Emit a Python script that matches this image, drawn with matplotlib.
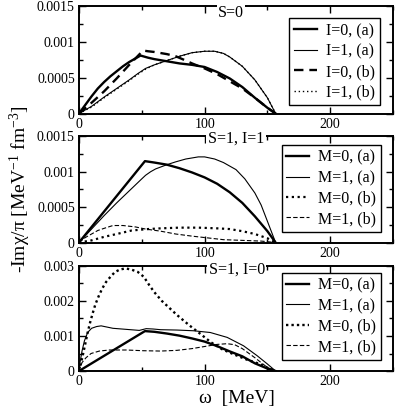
import matplotlib
matplotlib.use('Agg')
import matplotlib.pyplot as plt
from matplotlib.ticker import MultipleLocator

plt.rcParams['font.family'] = ['Liberation Serif', 'DejaVu Serif']
plt.rcParams['mathtext.fontset'] = 'custom'
plt.rcParams['mathtext.rm'] = 'Liberation Serif'
plt.rcParams['mathtext.it'] = 'Liberation Serif:italic'

# ---- S=0 panel ----
w_i0a = [0, 5, 10, 15, 20, 25, 30, 35, 40, 45, 49, 55, 60, 70, 80, 90, 100, 110, 120, 130, 140, 150, 156.5]
v_i0a = [0, 0.00012, 0.00024, 0.00035, 0.00044, 0.00052, 0.00059, 0.00066, 0.00072, 0.00077, 0.00081,
         0.00078, 0.00076, 0.00073, 0.0007, 0.00068, 0.00065, 0.00058, 0.00049, 0.00037, 0.00022, 0.00008, 0]
w_i1a = [0, 10, 20, 30, 40, 47, 53, 60, 70, 80, 90, 100, 108, 115, 120, 130, 140, 150, 156.5]
v_i1a = [0, 0.0001, 0.00023, 0.00035, 0.00047, 0.00056, 0.00063, 0.00068, 0.00074, 0.0008, 0.00085,
         0.00087, 0.00087, 0.00084, 0.00079, 0.00066, 0.00047, 0.00022, 0]
w_i0b = [0, 10, 20, 30, 40, 51, 55, 60, 70, 77, 85, 90, 100, 110, 120, 130, 140, 150, 156.5]
v_i0b = [0, 0.00015, 0.00031, 0.00049, 0.00068, 0.00088, 0.00087, 0.00086, 0.00083, 0.0008, 0.00074,
         0.0007, 0.00063, 0.00055, 0.00045, 0.00035, 0.00022, 0.00008, 0]
w_i1b = [0, 10, 20, 30, 40, 47, 53, 60, 70, 80, 90, 100, 108, 115, 120, 130, 140, 150, 156.5]
v_i1b = [0, 0.00009, 0.00022, 0.00034, 0.00046, 0.00055, 0.00062, 0.00068, 0.00074, 0.0008, 0.00085,
         0.00087, 0.00087, 0.00084, 0.00079, 0.00066, 0.00047, 0.00022, 0]

# ---- S=1, I=1 panel ----
w_m0a_1 = [0, 52.5, 60, 70, 80, 90, 100, 110, 120, 130, 140, 150, 156.5]
v_m0a_1 = [0, 0.00115, 0.00113, 0.0011, 0.00105, 0.00099, 0.00092, 0.00083, 0.00071, 0.00056, 0.00037, 0.00016, 0]
w_m1a_1 = [0, 10, 20, 30, 40, 50, 53, 57, 61, 70, 77, 85, 95, 100, 108, 115, 125, 132, 140, 145, 150, 156.5]
v_m1a_1 = [0, 0.00019, 0.00038, 0.00056, 0.00073, 0.0009, 0.00095, 0.001, 0.00104, 0.0011, 0.00114,
           0.00118, 0.00121, 0.00121, 0.00118, 0.00113, 0.00103, 0.0009, 0.0007, 0.00053, 0.0003, 0]
w_m0b_1 = [0, 10, 20, 30, 42, 55, 65, 80, 95, 110, 120, 130, 140, 150, 156.5]
v_m0b_1 = [0, 0.00003, 0.00008, 0.00012, 0.00017, 0.00019, 0.0002, 0.00021, 0.00021, 0.0002, 0.00019,
           0.00016, 0.00012, 0.00006, 0]
w_m1b_1 = [0, 5, 10, 15, 20, 27, 35, 45, 53, 65, 77, 90, 100, 115, 130, 145, 156.5]
v_m1b_1 = [0, 0.00007, 0.00012, 0.00017, 0.0002, 0.00024, 0.00024, 0.00022, 0.00019, 0.00016, 0.00012,
           0.00009, 0.00007, 0.00004, 0.00003, 0.00002, 0]

# ---- S=1, I=0 panel ----
w_m0a_0 = [0, 52.5, 60, 70, 80, 90, 100, 110, 120, 130, 140, 150, 156.5]
v_m0a_0 = [0, 0.00114, 0.00112, 0.00107, 0.00101, 0.00093, 0.00084, 0.00071, 0.00056, 0.00042, 0.00022, 0.00007, 0]
w_m1a_0 = [0, 0.8, 2.4, 4.3, 6.9, 10, 14, 17.6, 23, 27, 37.5, 48, 53.5, 59, 65, 78, 91, 104.5, 118, 131, 141.7, 150, 156.5]
v_m1a_0 = [0, 0.00024, 0.00057, 0.00086, 0.0011, 0.00122, 0.00127, 0.00129, 0.00125, 0.00122, 0.00119,
           0.00116, 0.00121, 0.0012, 0.00118, 0.00117, 0.00115, 0.0011, 0.00096, 0.00072, 0.00044, 0.0002, 0]
w_m0b_0 = [0, 2.9, 5, 6.9, 8.8, 10.9, 13, 15.7, 18.4, 21.5, 25, 28.7, 32.7, 37, 41.5, 46.8, 51.6, 56, 60,
           66, 78, 88, 97, 105, 114, 123, 134, 144, 152, 156.5]
v_m0b_0 = [0, 0.00043, 0.00078, 0.0011, 0.00138, 0.00165, 0.0019, 0.00214, 0.00235, 0.00254, 0.00269,
           0.00283, 0.0029, 0.00293, 0.0029, 0.00283, 0.00269, 0.00245, 0.00225, 0.002, 0.0016, 0.0013,
           0.00105, 0.00082, 0.00062, 0.00048, 0.00032, 0.0002, 0.00006, 0]
w_m1b_0 = [0, 2.4, 5.6, 9.6, 16.2, 24.2, 37.5, 50.8, 65, 78, 90, 100, 110, 118, 124, 130, 140, 150, 156.5]
v_m1b_0 = [0, 0.00024, 0.00038, 0.0005, 0.00057, 0.0006, 0.0006, 0.00058, 0.00057, 0.00059, 0.00064,
           0.0007, 0.00076, 0.00078, 0.00075, 0.00064, 0.00038, 0.0001, 0]

lab_s0 = ['I=0, (a)', 'I=1, (a)', 'I=0, (b)', 'I=1, (b)']
lab_s1 = ['M=0, (a)', 'M=1, (a)', 'M=0, (b)', 'M=1, (b)']

fig = plt.figure(figsize=(3.95, 4.12), dpi=100)
L, W = 0.2, 0.795
ax1 = fig.add_axes([L, 0.7245, W, 0.2605])
ax2 = fig.add_axes([L, 0.4114, W, 0.2576])
ax3 = fig.add_axes([L, 0.0995, W, 0.2549])

thick, thin = 1.7, 0.8

ax1.plot(w_i0a, v_i0a, 'k-', lw=thick, label=lab_s0[0])
ax1.plot(w_i1a, v_i1a, 'k-', lw=thin, label=lab_s0[1])
ax1.plot(w_i0b, v_i0b, 'k--', lw=thick, dashes=(4, 2.5), label=lab_s0[2])
ax1.plot(w_i1b, v_i1b, 'k:', lw=1.0, dashes=(1, 2), label=lab_s0[3])

ax2.plot(w_m0a_1, v_m0a_1, 'k-', lw=thick, label=lab_s1[0])
ax2.plot(w_m1a_1, v_m1a_1, 'k-', lw=thin, label=lab_s1[1])
ax2.plot(w_m0b_1, v_m0b_1, 'k:', lw=1.6, dashes=(1, 1.6), label=lab_s1[2])
ax2.plot(w_m1b_1, v_m1b_1, 'k--', lw=thin, dashes=(4, 2), label=lab_s1[3])

ax3.plot(w_m0a_0, v_m0a_0, 'k-', lw=thick, label=lab_s1[0])
ax3.plot(w_m1a_0, v_m1a_0, 'k-', lw=thin, label=lab_s1[1])
ax3.plot(w_m0b_0, v_m0b_0, 'k:', lw=1.7, dashes=(1, 1.3), label=lab_s1[2])
ax3.plot(w_m1b_0, v_m1b_0, 'k--', lw=thin, dashes=(4, 2), label=lab_s1[3])

ax1.set_ylim(0, 0.0015)
ax2.set_ylim(0, 0.0015)
ax3.set_ylim(0, 0.003)
ax1.set_yticks([0, 0.0005, 0.001, 0.0015], ['0', '0.0005', '0.001', '0.0015'])
ax2.set_yticks([0, 0.0005, 0.001, 0.0015], ['0', '0.0005', '0.001', '0.0015'])
ax3.set_yticks([0, 0.001, 0.002, 0.003], ['0', '0.001', '0.002', '0.003'])
ax1.yaxis.set_minor_locator(MultipleLocator(0.00025))
ax2.yaxis.set_minor_locator(MultipleLocator(0.00025))
ax3.yaxis.set_minor_locator(MultipleLocator(0.0005))

legend_pos = [(0.9586, 0.888), (0.962, 0.92), (0.962, 0.936)]
texts = [('S=0', 121, 0.935), ('S=1, I=1', 125, 0.975), ('S=1, I=0', 125.5, 0.967)]

for ax, pos, (t, tx, ty) in zip([ax1, ax2, ax3], legend_pos, texts):
    ax.set_xlim(0, 250)
    ax.set_xticks([0, 100, 200], ['0', '100', '200'])
    ax.xaxis.set_minor_locator(MultipleLocator(50))
    ax.tick_params(which='both', direction='in', top=True, right=True, labelsize=10, width=1.0)
    ax.tick_params(which='major', length=5, pad=3)
    ax.tick_params(which='minor', length=3)
    for s in ax.spines.values():
        s.set_linewidth(1.4)
    leg = ax.legend(loc='upper right', bbox_to_anchor=pos, borderaxespad=0, fontsize=11.5,
                    frameon=True, fancybox=False, edgecolor='black', framealpha=1,
                    handlelength=1.4, handletextpad=0.6, labelspacing=0.28, borderpad=0.3)
    leg.get_frame().set_linewidth(1.0)
    ax.text(tx, ty, t, transform=ax.get_xaxis_transform(), ha='center', va='center', fontsize=11.5,
            zorder=5, bbox=dict(facecolor='white', edgecolor='none', pad=1.0))

fig.text(0.052, 0.54, '-Im\u03c7/\u03c0 [MeV$^{-1}$ fm$^{-3}$]', rotation=90, ha='center', va='center', fontsize=14)
fig.text(0.6, 0.012, '\u03c9  [MeV]', ha='center', va='bottom', fontsize=14)

plt.savefig('out.png', dpi=100)
